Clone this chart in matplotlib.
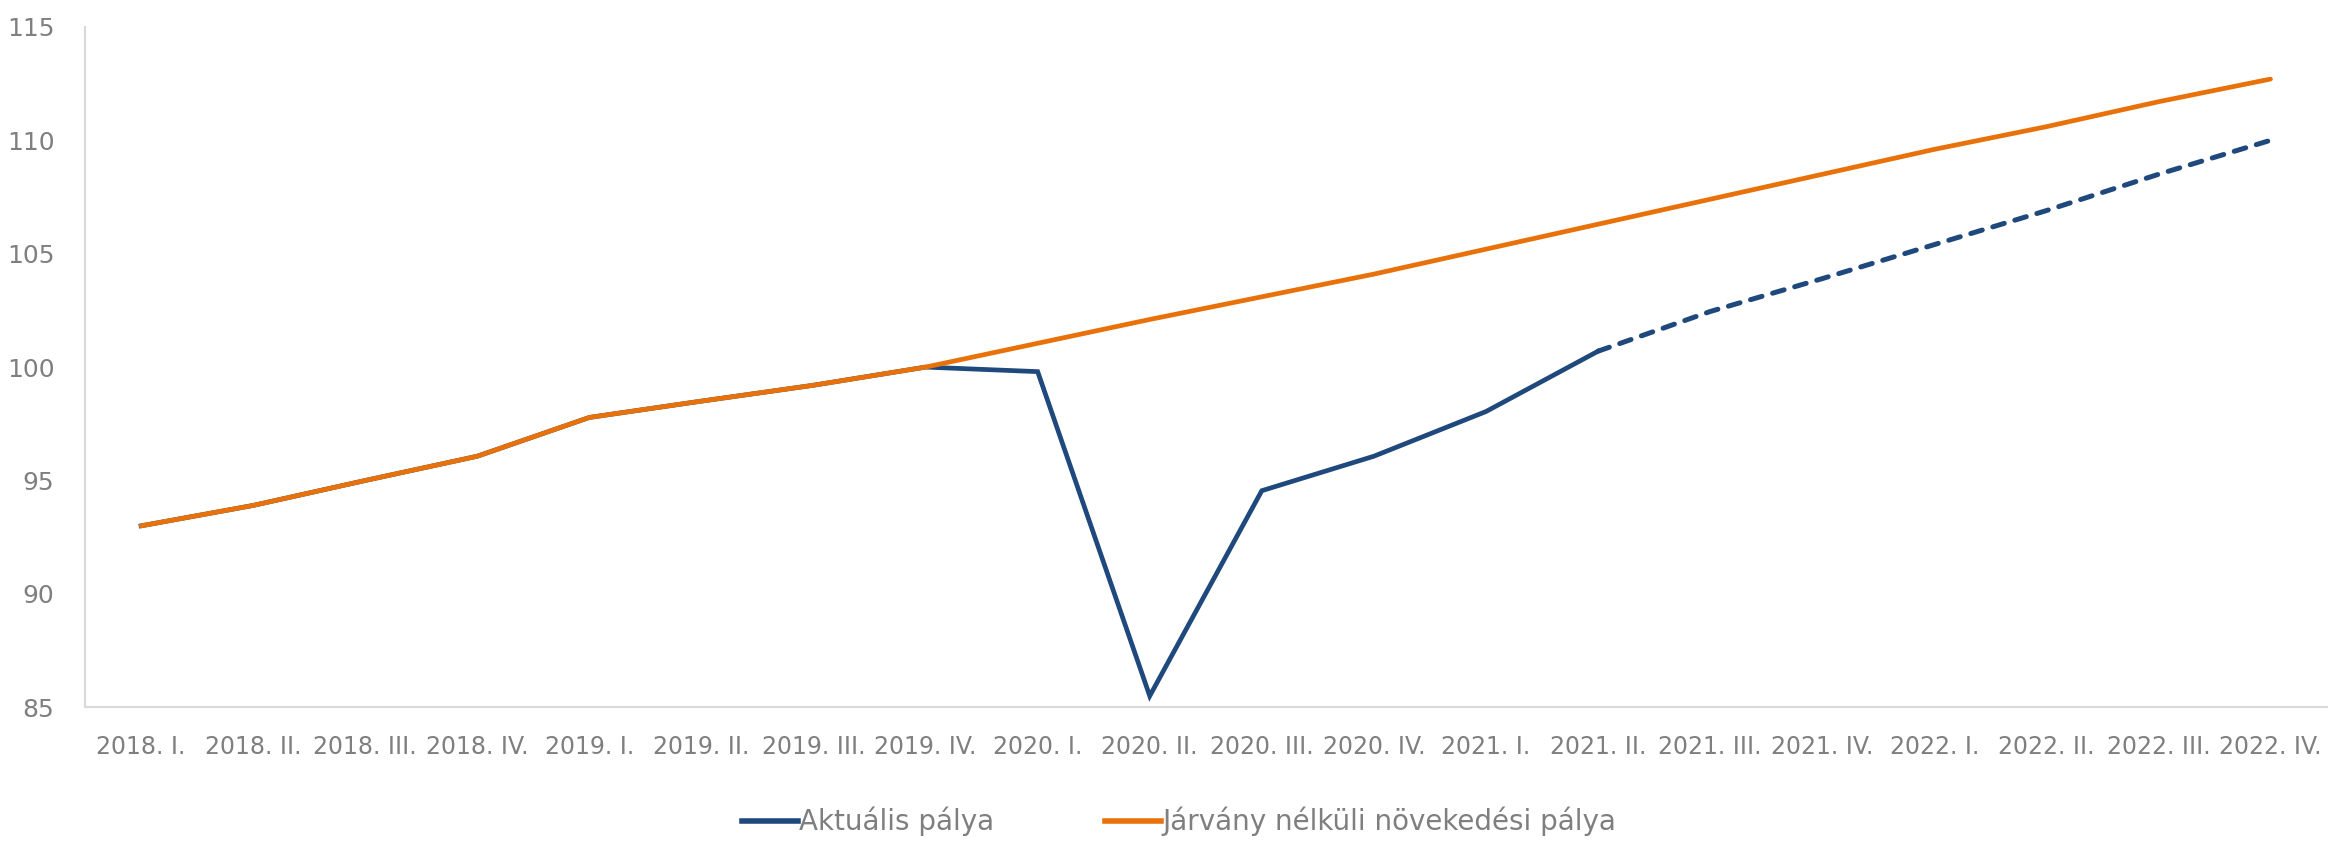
import matplotlib
matplotlib.use("Agg")
import matplotlib.pyplot as plt
from matplotlib.lines import Line2D

categories = ["2018. I.", "2018. II.", "2018. III.", "2018. IV.",
              "2019. I.", "2019. II.", "2019. III.", "2019. IV.",
              "2020. I.", "2020. II.", "2020. III.", "2020. IV.",
              "2021. I.", "2021. II.", "2021. III.", "2021. IV.",
              "2022. I.", "2022. II.", "2022. III.", "2022. IV."]

# Aktuális pálya (solid part, through 2021. II.)
actual = [93.0, 93.9, 95.0, 96.07, 97.78, 98.5, 99.2, 100.0,
          99.8, 85.5, 94.55, 96.07, 98.04, 100.7]
# Forecast (dashed part, from 2021. II.)
forecast = [100.7, 102.45, 103.9, 105.4, 106.9, 108.5, 110.0]
# Járvány nélküli növekedési pálya
no_covid = [93.0, 93.9, 95.0, 96.07, 97.78, 98.5, 99.2, 100.0,
            101.05, 102.1, 103.1, 104.1, 105.2, 106.3, 107.4, 108.5,
            109.6, 110.6, 111.7, 112.7]

yticks = [85, 90, 95, 100, 105, 110, 115]

blue = "#1F497D"
orange = "#E8710A"
grey = "#7F7F7F"

plt.rcParams['font.family'] = ['DejaVu Sans']

fig = plt.figure(figsize=(23.30, 8.41), dpi=100)
ax = fig.add_axes([0.0365, 0.159, 0.962, 0.809])

x_all = list(range(len(categories)))
x_act = x_all[:len(actual)]
x_fc = x_all[len(actual) - 1:]

ax.plot(x_act, actual, color=blue, lw=3.4, solid_joinstyle='miter', zorder=2)
ax.plot(x_fc, forecast, color=blue, lw=3.6, linestyle=(0, (2.4, 2.2)),
        dash_capstyle='round', zorder=2)
ax.plot(x_all, no_covid, color=orange, lw=3.4, solid_capstyle='round', zorder=3)

ax.set_xlim(-0.5, len(categories) - 0.5)
ax.set_ylim(85, 115)
ax.set_yticks(yticks)
ax.set_xticks(x_all)
ax.set_xticklabels(categories)

for s in ["top", "right"]:
    ax.spines[s].set_visible(False)
for s in ["left", "bottom"]:
    ax.spines[s].set_color("#D9D9D9")
    ax.spines[s].set_linewidth(1.5)

ax.tick_params(axis='both', length=0, colors=grey)
ax.tick_params(axis='x', pad=20, labelsize=17)
ax.tick_params(axis='y', pad=22, labelsize=18)

handles = [Line2D([0], [0], color=blue, lw=4),
           Line2D([0], [0], color=orange, lw=4)]
labels = ["Aktuális pálya", "Járvány nélküli növekedési pálya"]
leg = fig.legend(handles, labels, loc='center', bbox_to_anchor=(0.506, 0.023),
                 ncol=2, frameon=False, fontsize=20, handlelength=2.0,
                 handletextpad=0.05, columnspacing=4.0, labelcolor=grey,
                 borderpad=0, borderaxespad=0)

fig.savefig("out.png", dpi=100)
